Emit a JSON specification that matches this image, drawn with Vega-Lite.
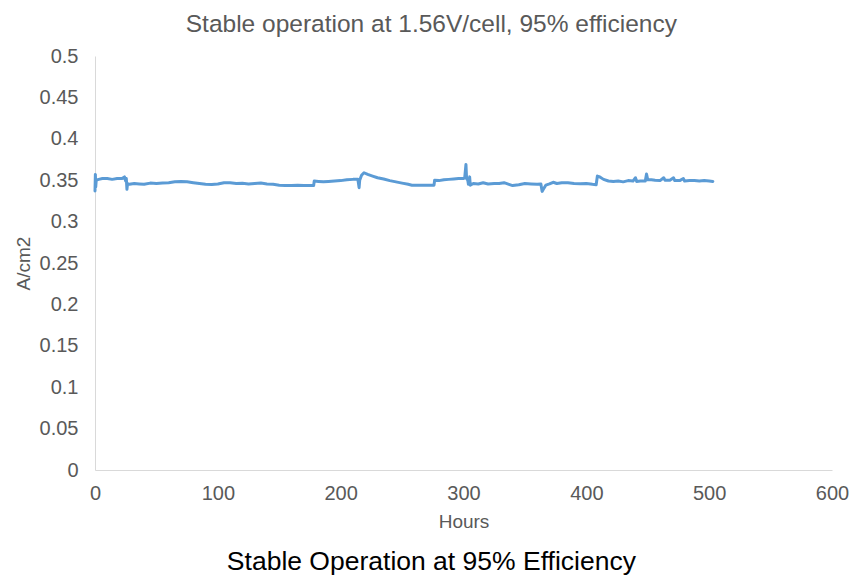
{
  "$schema": "https://vega.github.io/schema/vega-lite/v6.json",
  "autosize": {"type": "pad"},
  "padding": {"left": 14, "top": 11, "right": 0, "bottom": 0},
  "background": "white",
  "config": {"view": {"stroke": null}, "font": "Liberation Sans"},
  "title": {
    "text": "Stable operation at 1.56V/cell, 95% efficiency",
    "orient": "top",
    "anchor": "middle",
    "frame": "bounds",
    "fontSize": 24.5,
    "fontWeight": "normal",
    "color": "#595959",
    "font": "Liberation Sans",
    "offset": 9
  },
  "vconcat": [
    {
      "width": 737,
      "height": 414,
      "title": {
        "text": "Stable Operation at 95% Efficiency",
        "orient": "bottom",
        "anchor": "middle",
        "frame": "bounds",
        "fontSize": 26.5,
        "fontWeight": "normal",
        "color": "#000000",
        "font": "Liberation Sans",
        "offset": 18
      },
      "data": {"values": [
        {"h": 0, "v": 0.337}, {"h": 0.3, "v": 0.357}, {"h": 0.6, "v": 0.342}, {"h": 1, "v": 0.350},
        {"h": 3, "v": 0.351}, {"h": 6, "v": 0.352}, {"h": 10, "v": 0.352}, {"h": 14, "v": 0.351},
        {"h": 18, "v": 0.352}, {"h": 22, "v": 0.352}, {"h": 24, "v": 0.354}, {"h": 25, "v": 0.349},
        {"h": 25.5, "v": 0.352}, {"h": 26, "v": 0.339}, {"h": 26.5, "v": 0.346}, {"h": 28, "v": 0.345},
        {"h": 32, "v": 0.346}, {"h": 36, "v": 0.3455}, {"h": 40, "v": 0.345}, {"h": 45, "v": 0.3465},
        {"h": 50, "v": 0.346}, {"h": 55, "v": 0.3465}, {"h": 60, "v": 0.347}, {"h": 65, "v": 0.348},
        {"h": 70, "v": 0.3485}, {"h": 75, "v": 0.348}, {"h": 80, "v": 0.347}, {"h": 85, "v": 0.346},
        {"h": 90, "v": 0.345}, {"h": 95, "v": 0.3448}, {"h": 100, "v": 0.3455}, {"h": 105, "v": 0.347},
        {"h": 110, "v": 0.3468}, {"h": 115, "v": 0.346}, {"h": 120, "v": 0.3462}, {"h": 125, "v": 0.3455},
        {"h": 130, "v": 0.346}, {"h": 135, "v": 0.3465}, {"h": 140, "v": 0.3455}, {"h": 145, "v": 0.345},
        {"h": 150, "v": 0.344}, {"h": 155, "v": 0.3435}, {"h": 160, "v": 0.3435}, {"h": 165, "v": 0.3438},
        {"h": 170, "v": 0.3435}, {"h": 175, "v": 0.3435}, {"h": 178, "v": 0.3435}, {"h": 178.5, "v": 0.349},
        {"h": 182, "v": 0.3485}, {"h": 186, "v": 0.348}, {"h": 190, "v": 0.3485}, {"h": 195, "v": 0.349},
        {"h": 200, "v": 0.3495}, {"h": 205, "v": 0.3505}, {"h": 210, "v": 0.351}, {"h": 214, "v": 0.351},
        {"h": 215, "v": 0.341}, {"h": 215.5, "v": 0.350}, {"h": 217, "v": 0.356}, {"h": 219, "v": 0.359},
        {"h": 222, "v": 0.357}, {"h": 226, "v": 0.355}, {"h": 230, "v": 0.353}, {"h": 235, "v": 0.3515},
        {"h": 240, "v": 0.3495}, {"h": 245, "v": 0.348}, {"h": 250, "v": 0.3465}, {"h": 255, "v": 0.345},
        {"h": 258, "v": 0.344}, {"h": 262, "v": 0.3438}, {"h": 268, "v": 0.344}, {"h": 272, "v": 0.3438},
        {"h": 276, "v": 0.344}, {"h": 276.5, "v": 0.350}, {"h": 280, "v": 0.3495}, {"h": 284, "v": 0.3505},
        {"h": 288, "v": 0.351}, {"h": 292, "v": 0.3515}, {"h": 296, "v": 0.352}, {"h": 300, "v": 0.352},
        {"h": 301, "v": 0.353}, {"h": 302, "v": 0.369}, {"h": 302.5, "v": 0.352}, {"h": 303.5, "v": 0.350},
        {"h": 304, "v": 0.345}, {"h": 305, "v": 0.354}, {"h": 305.5, "v": 0.344}, {"h": 308, "v": 0.346},
        {"h": 312, "v": 0.3455}, {"h": 316, "v": 0.347}, {"h": 320, "v": 0.3455}, {"h": 325, "v": 0.346},
        {"h": 329, "v": 0.346}, {"h": 333, "v": 0.347}, {"h": 337, "v": 0.345}, {"h": 340, "v": 0.3435},
        {"h": 345, "v": 0.3445}, {"h": 350, "v": 0.346}, {"h": 355, "v": 0.3455}, {"h": 360, "v": 0.345},
        {"h": 363, "v": 0.3455}, {"h": 364, "v": 0.3365}, {"h": 365, "v": 0.339}, {"h": 367, "v": 0.344},
        {"h": 370, "v": 0.3455}, {"h": 373, "v": 0.3475}, {"h": 376, "v": 0.346}, {"h": 380, "v": 0.347},
        {"h": 385, "v": 0.3468}, {"h": 390, "v": 0.346}, {"h": 395, "v": 0.3458}, {"h": 400, "v": 0.346},
        {"h": 405, "v": 0.345}, {"h": 408, "v": 0.3445}, {"h": 409, "v": 0.355}, {"h": 411, "v": 0.354},
        {"h": 414, "v": 0.351}, {"h": 418, "v": 0.349}, {"h": 422, "v": 0.3485}, {"h": 426, "v": 0.349},
        {"h": 430, "v": 0.348}, {"h": 434, "v": 0.3495}, {"h": 438, "v": 0.349}, {"h": 440, "v": 0.353},
        {"h": 441, "v": 0.3485}, {"h": 444, "v": 0.349}, {"h": 448, "v": 0.349}, {"h": 449, "v": 0.3575},
        {"h": 450, "v": 0.3505}, {"h": 453, "v": 0.3505}, {"h": 456, "v": 0.350}, {"h": 460, "v": 0.3495},
        {"h": 463, "v": 0.353}, {"h": 464, "v": 0.350}, {"h": 468, "v": 0.350}, {"h": 471, "v": 0.353},
        {"h": 472, "v": 0.3495}, {"h": 476, "v": 0.3495}, {"h": 479, "v": 0.352}, {"h": 480, "v": 0.349},
        {"h": 484, "v": 0.3495}, {"h": 488, "v": 0.3495}, {"h": 492, "v": 0.349}, {"h": 496, "v": 0.3495},
        {"h": 500, "v": 0.349}, {"h": 503, "v": 0.3485}
      ]},
      "mark": {"type": "line", "color": "#5B9BD5", "strokeWidth": 3, "strokeJoin": "round", "strokeCap": "round"},
      "encoding": {
        "x": {
          "field": "h", "type": "quantitative",
          "scale": {"domain": [0, 600], "nice": false},
          "axis": {
            "values": [0, 100, 200, 300, 400, 500, 600], "format": "d", "labelFlush": false,
            "title": "Hours", "grid": false, "ticks": false,
            "domainColor": "#d9d9d9", "domainWidth": 1,
            "labelFontSize": 20, "labelColor": "#595959", "labelPadding": 13,
            "labelFont": "Liberation Sans", "titleFont": "Liberation Sans",
            "titleFontSize": 19, "titleColor": "#595959", "titleFontWeight": "normal",
            "titlePadding": 9
          }
        },
        "y": {
          "field": "v", "type": "quantitative",
          "scale": {"domain": [0, 0.5], "nice": false},
          "axis": {
            "values": [0, 0.05, 0.1, 0.15, 0.2, 0.25, 0.3, 0.35, 0.4, 0.45, 0.5], "format": "~g",
            "labelFlush": false,
            "title": "A/cm2", "grid": false, "ticks": false,
            "domainColor": "#d9d9d9", "domainWidth": 1,
            "labelFontSize": 20, "labelColor": "#595959", "labelPadding": 17,
            "labelFont": "Liberation Sans", "titleFont": "Liberation Sans",
            "titleFontSize": 19, "titleColor": "#595959", "titleFontWeight": "normal",
            "titlePadding": 6
          }
        }
      }
    }
  ]
}
